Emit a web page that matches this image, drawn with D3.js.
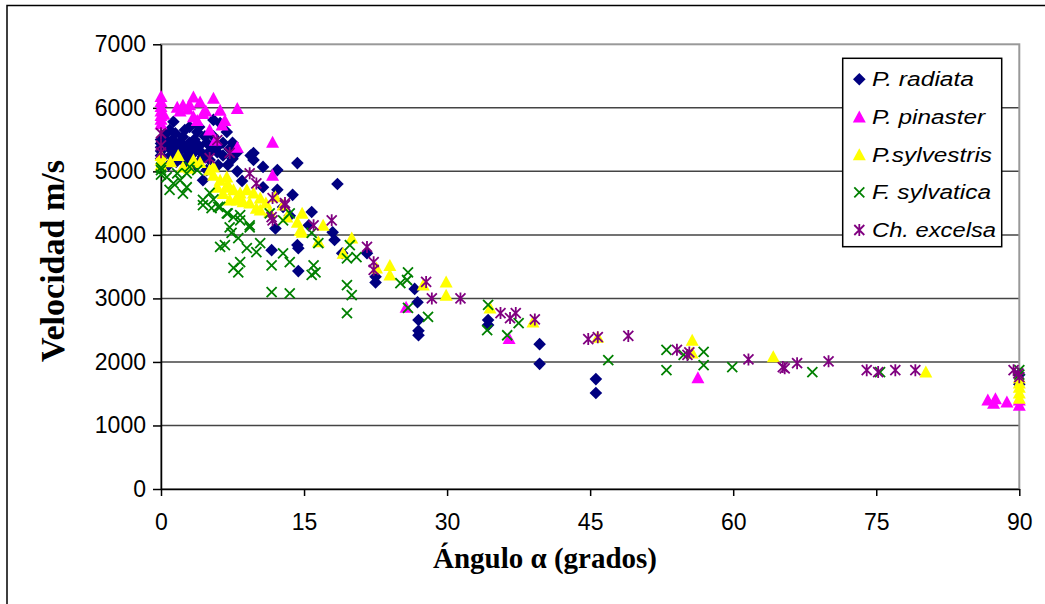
<!DOCTYPE html>
<html>
<head>
<meta charset="utf-8">
<script src="https://cdn.jsdelivr.net/npm/d3@7"></script>
<style>
  body { margin: 0; background: #fff; }
  svg { display: block; }
  .tick text { font-family: "Liberation Sans", Arial, sans-serif; }
</style>
</head>
<body>
<svg id="chart" width="1045" height="604"></svg>
<script>
// datos: [ángulo (grados), velocidad (m/s)]
const radiata = [[0,5200],[0,5250],[0,5320],[0,5380],[0,5440],[0,5500],[0.5,5420],[0.6,5490],[0.9,5650],[1.3,5780],
  [1,5350],[1.2,5500],[1.5,5400],[1.8,5300],[2,5460],[2.3,5540],[2.5,5380],[2.8,5250],[3,5450],[3.2,5350],
  [3.5,5500],[3.8,5620],[4,5400],[4.2,5300],[4.4,5230],[4.6,5550],[4.8,5450],[5.1,5180],[5.3,5380],[5.5,5810],
  [5.9,5300],[6.2,5760],[6.5,5450],[6.9,5620],[7.2,5350],[4.8,5020],[4.4,4860],[3.6,5100],[2.6,5150],[1.6,5150],
  [0.8,5100],[7.5,5200],[8,5000],[8.5,4850],[6,5100],[9.4,5250],[9.7,5290],[9.7,5180],[10.7,5070],[12.2,5020],
  [12.2,4710],[10.7,4750],[14.3,5130],[13.8,4630],[12.8,4440],[11.6,3760],[14.4,3430],[14.4,3790],[14.3,3840],[15.8,4360],
  [18,4040],[18.2,3920],[18.5,4800],[19,3710],[21.6,3710],[22.5,3340],[22.5,3250],[26.6,3150],[26.9,2940],[27,2660],
  [27,2490],[27,2420],[34.3,2660],[34.3,2580],[39.7,2280],[39.7,1970],[45.6,1730],[45.6,1510],[90,1800],[90,1650],
  [13.5,4300],[12,4100],[15.5,4150],[1.5,5600],[2.5,5650],[3,5700],[4,5700],[0.5,5600],[1,5250],[2,5200],
  [3,5250],[4,5150],[5,5300],[5.5,5550],[6,5400],[6.5,5250],[7,5100],[7.5,5450],[8,5300],[3.5,5300],[2.2,5350]];
const pinaster = [[0,5750],[0,5820],[0,5880],[0,5950],[0,6020],[0,6100],[0,6180],[0.3,5900],[1.7,6010],[2.3,6040],
  [2,5950],[2.8,5980],[3.4,6170],[3.4,5860],[3,6050],[4.1,6090],[4.4,5910],[3.8,5800],[4.7,5950],[5.5,6150],
  [5.1,5650],[5.7,5490],[6.2,5960],[6.4,5730],[6.7,5800],[8,5990],[8,5380],[11.7,5460],[11.7,4940],[25.7,2860],
  [36.5,2370],[56.3,1750],[86.7,1400],[87.3,1350],[87.5,1420],[88.7,1370],[90,1320],[90,1400]];
const sylvestris = [[0,5100],[0,5180],[0,5250],[1,5150],[1.8,5250],[2.3,5070],[3,5050],[3.4,5180],[4.1,5140],[5.1,5020],
  [5.5,5070],[5.5,4940],[6.2,4860],[6.9,4910],[7,4800],[5.9,4750],[6.9,4750],[6.5,4650],[7.6,4710],[8.3,4660],
  [9,4710],[9.7,4660],[8,4600],[7.2,4550],[8.6,4520],[9.3,4500],[10.4,4580],[10.4,4390],[11.4,4360],[11,4500],
  [12,4600],[12.8,4470],[13.2,4280],[14.3,4200],[8,4550],[10,4420],[14.8,4340],[14.6,4070],[17,4150],[16.5,3890],
  [19.1,3710],[14.8,4040],[20,3950],[24,3520],[24,3370],[22.6,3480],[27.5,3210],[29.9,3260],[29.9,3050],[34.5,2850],
  [39,2630],[45.8,2390],[55.7,2340],[55.7,2140],[64.2,2080],[80.2,1840],[90,1430],[90,1510],[90,1600],[90,1670],[90,1750]];
const sylvatica = [[0,4950],[0,5020],[0,5060],[0.6,4910],[1.3,4810],[0.9,4710],[2,4860],[2.7,4970],[3,5070],[3.8,5020],
  [1.7,4970],[2.7,4750],[2.3,4650],[5.1,4660],[4.4,4550],[5.5,4560],[6.2,4440],[6.9,4340],[7.6,4280],[8.3,4230],
  [9.3,4120],[7.2,4120],[11.4,4340],[12.8,4230],[13.5,4340],[4.4,4470],[5.3,4420],[6,4440],[7,4340],[8.3,4310],
  [7.4,4030],[9.3,4150],[8.1,3950],[6.2,3810],[6.7,3840],[9,3790],[10.4,3870],[10,3730],[8.3,3570],[7.6,3480],
  [8.1,3410],[11.6,3520],[12.8,3710],[13.5,3570],[16,3520],[16.2,3410],[15.8,3370],[11.6,3100],[13.5,3080],[15.8,4030],
  [16.5,3870],[19.8,3840],[19.5,3630],[20.5,3650],[19.5,3210],[20,3050],[19.5,2770],[25.9,3410],[25.1,3240],[25.8,3290],
  [25.9,2850],[28,2710],[34.3,2900],[34.2,2500],[36.3,2420],[37.5,2610],[46.9,2030],[53,2190],[53,1870],[54.8,2110],
  [56.9,2160],[56.9,1950],[59.9,1920],[68.3,1840],[75.4,1840],[90,1870],[90,1800]];
const excelsa = [[0,5600],[0,5410],[0,5300],[5.9,5490],[7.2,5290],[5.1,5210],[9.3,4970],[10,4810],[11.7,4580],[13,4500],
  [11.6,4280],[11.7,4230],[13,4470],[17.9,4230],[16,4150],[21.6,3810],[22.3,3570],[22.3,3450],[27.8,3260],[28.4,3000],
  [31.4,3000],[35.6,2770],[36.6,2690],[37.2,2770],[39.2,2670],[44.8,2360],[45.8,2390],[49,2410],[54.1,2190],[55.2,2110],
  [55.4,2150],[61.6,2040],[65.2,1920],[65.4,1900],[66.7,1980],[70,2010],[74,1870],[75.2,1840],[77,1870],[79.1,1870],
  [89.4,1870],[89.9,1820],[90,1760]];

const seriesNames = ["P. radiata", "P. pinaster", "P.sylvestris", "F. sylvatica", "Ch. excelsa"];
const xTicks = [0, 15, 30, 45, 60, 75, 90];
const yTicks = [0, 1000, 2000, 3000, 4000, 5000, 6000, 7000];

const svg = d3.select("#chart");

// escalas
const x = d3.scaleLinear().domain([0, 90]).range([161, 1019.3]);
const y = d3.scaleLinear().domain([0, 7000]).range([489, 44.3]);

// marco exterior
svg.append("rect")
  .attr("x", 7).attr("y", 5.5)
  .attr("width", 1050).attr("height", 620)
  .attr("fill", "none").attr("stroke", "#000").attr("stroke-width", 1.5);

// líneas de división
svg.append("g")
  .selectAll("line")
  .data(yTicks.slice(1, -1))
  .join("line")
  .attr("x1", x(0)).attr("x2", x(90))
  .attr("y1", d => y(d)).attr("y2", d => y(d))
  .attr("stroke", "#444").attr("stroke-width", 1.5);

// borde del área de trazado
svg.append("rect")
  .attr("x", x(0)).attr("y", y(7000))
  .attr("width", x(90) - x(0)).attr("height", y(0) - y(7000))
  .attr("fill", "none").attr("stroke", "#999").attr("stroke-width", 2);

// ejes
const yAxis = svg.append("g")
  .attr("transform", `translate(${x(0)},0)`)
  .call(d3.axisLeft(y).tickValues(yTicks).tickFormat(d3.format("d"))
    .tickSize(8).tickPadding(7).tickSizeOuter(0));
const xAxis = svg.append("g")
  .attr("transform", `translate(0,${y(0)})`)
  .call(d3.axisBottom(x).tickValues(xTicks).tickFormat(d3.format("d"))
    .tickSize(7).tickPadding(18).tickSizeOuter(0));

[yAxis, xAxis].forEach(g => {
  g.select(".domain").attr("stroke", "#000").attr("stroke-width", 1.5);
  g.selectAll(".tick line").attr("stroke", "#000").attr("stroke-width", 1.5);
  g.selectAll(".tick text").attr("font-size", 23).attr("fill", "#000");
});

// marcadores
const markers = {
  diamond: "M0,-6.3L6.3,0L0,6.3L-6.3,0Z",
  triangle: "M0,-6.5L6.5,5.5L-6.5,5.5Z",
  cross: "M-5,-5L5,5M-5,5L5,-5",
  star: "M-5,-5L5,5M-5,5L5,-5M0,-6L0,6"
};
const styles = [
  { shape: "diamond", fill: "#000080", stroke: "none" },
  { shape: "triangle", fill: "#FF00FF", stroke: "none" },
  { shape: "triangle", fill: "#FFFF00", stroke: "none" },
  { shape: "cross", fill: "none", stroke: "#008000" },
  { shape: "star", fill: "none", stroke: "#800080" }
];
const allSeries = [radiata, pinaster, sylvestris, sylvatica, excelsa];

allSeries.forEach((data, i) => {
  const s = styles[i];
  svg.append("g")
    .selectAll("path")
    .data(data)
    .join("path")
    .attr("transform", d => `translate(${x(d[0])},${y(d[1])})`)
    .attr("d", markers[s.shape])
    .attr("fill", s.fill)
    .attr("stroke", s.stroke)
    .attr("stroke-width", 1.8);
});

// leyenda
const legend = svg.append("g");
legend.append("rect")
  .attr("x", 842.7).attr("y", 58.3)
  .attr("width", 159).attr("height", 188.4)
  .attr("fill", "#fff").attr("stroke", "#000").attr("stroke-width", 1.5);

const legendWidths = [102, 113, 120, 119, 124];
const legendY = d3.scalePoint().domain(seriesNames).range([79.3, 230]);
seriesNames.forEach((name, i) => {
  const s = styles[i];
  legend.append("path")
    .attr("transform", `translate(859.3,${legendY(name)})`)
    .attr("d", markers[s.shape])
    .attr("fill", s.fill)
    .attr("stroke", s.stroke)
    .attr("stroke-width", 1.8);
  legend.append("text")
    .attr("x", 872).attr("y", legendY(name) + 7)
    .attr("font-family", "Liberation Sans, Arial, sans-serif")
    .attr("font-style", "italic")
    .attr("font-size", 20)
    .attr("textLength", legendWidths[i])
    .attr("lengthAdjust", "spacingAndGlyphs")
    .text(name);
});

// títulos de los ejes
svg.append("text")
  .attr("transform", "translate(64,261) rotate(-90)")
  .attr("text-anchor", "middle")
  .attr("font-family", "Liberation Serif, Times New Roman, serif")
  .attr("font-weight", "bold")
  .attr("font-size", 34)
  .text("Velocidad m/s");

svg.append("text")
  .attr("x", 545).attr("y", 568)
  .attr("text-anchor", "middle")
  .attr("font-family", "Liberation Serif, Times New Roman, serif")
  .attr("font-weight", "bold")
  .attr("font-size", 29)
  .text("Ángulo α (grados)");
</script>
</body>
</html>
